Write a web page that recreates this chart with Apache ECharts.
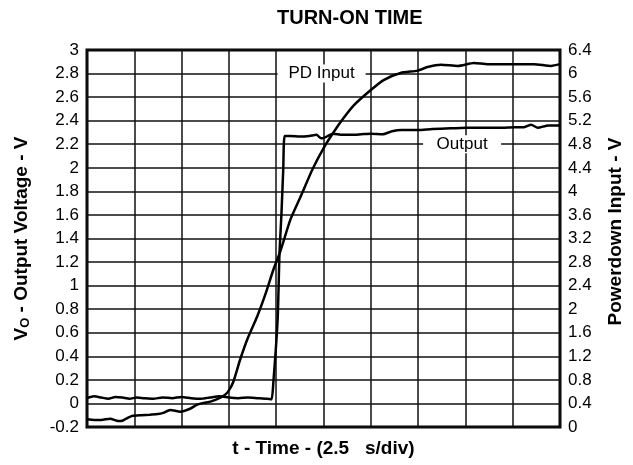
<!DOCTYPE html>
<html>
<head>
<meta charset="utf-8">
<script src="https://cdn.jsdelivr.net/npm/echarts@6/dist/echarts.min.js"></script>
<style>
  html, body { margin: 0; padding: 0; background: #fff; }
  #chart { width: 633px; height: 465px; }
</style>
</head>
<body>
<div id="chart"></div>
<script>
// time in divisions (2.5 us/div)
const outputTime = [0, 0.15, 0.3, 0.45, 0.6, 0.75, 0.9, 1.05, 1.2, 1.4, 1.6, 1.8, 2.0, 2.2, 2.4, 2.6, 2.8, 3.0, 3.2, 3.4, 3.6, 3.8, 3.9,
  3.94, 4.03, 4.07, 4.11, 4.15, 4.18, 4.3, 4.5, 4.7, 4.85, 4.95, 5.02, 5.2, 5.4, 5.6, 5.8, 6.0, 6.25, 6.45, 6.65, 7.0, 7.3,
  7.7, 8.05, 8.4, 8.75, 9.03, 9.24, 9.39, 9.53, 9.75, 10];
const outputVolts = [0.045, 0.06, 0.05, 0.04, 0.055, 0.05, 0.04, 0.05, 0.045, 0.04, 0.05, 0.045, 0.055, 0.045, 0.04, 0.05, 0.06, 0.05, 0.045, 0.05, 0.045, 0.04, 0.035,
  0.18, 0.71, 1.28, 1.6, 2.0, 2.27, 2.27, 2.265, 2.27, 2.28, 2.25, 2.255, 2.29, 2.28, 2.28, 2.285, 2.29, 2.285, 2.31, 2.32, 2.32, 2.33,
  2.335, 2.34, 2.34, 2.34, 2.345, 2.345, 2.365, 2.34, 2.36, 2.36];

const pdTime = [0, 0.15, 0.3, 0.49, 0.66, 0.76, 0.87, 0.97, 1.15, 1.33, 1.5, 1.61, 1.76, 1.97, 2.18, 2.33, 2.47, 2.61, 2.82, 2.92, 2.99,
  3.09, 3.24, 3.39, 3.6, 3.77, 3.94, 4.09, 4.3, 4.51, 4.77, 5.02, 5.21, 5.42, 5.64, 6.0, 6.27, 6.63, 6.99, 7.2, 7.48, 7.84,
  8.18, 8.47, 8.75, 9.11, 9.45, 9.81, 10];
const pdVolts = [0.13, 0.12, 0.12, 0.14, 0.1, 0.11, 0.16, 0.19, 0.2, 0.21, 0.22, 0.24, 0.29, 0.26, 0.31, 0.38, 0.41, 0.43, 0.5, 0.55, 0.61,
  0.76, 1.15, 1.49, 1.88, 2.25, 2.67, 2.99, 3.52, 3.9, 4.38, 4.76, 5.0, 5.24, 5.46, 5.72, 5.89, 6.01, 6.05, 6.11, 6.15, 6.13,
  6.18, 6.16, 6.16, 6.16, 6.16, 6.13, 6.16];

const FONT = 'Liberation Sans, Arial, Helvetica, sans-serif';

const chart = echarts.init(document.getElementById('chart'));

const pair = (xs, ys) => xs.map((x, i) => [x, ys[i]]);

// white box with the trace name, sitting on a grid line
const labelBox = (name, coord, w) => ({
  coord: coord,
  symbol: 'rect',
  symbolSize: [w, 18],
  itemStyle: { color: '#fff' },
  label: {
    show: true,
    position: 'inside',
    formatter: name,
    color: '#000',
    fontSize: 17,
    fontFamily: FONT
  }
});

const option = {
  animation: false,
  backgroundColor: '#fff',
  title: {
    text: 'TURN-ON TIME',
    left: 272,
    top: 3,
    textStyle: { fontSize: 20, fontWeight: 'bold', color: '#000', fontFamily: FONT }
  },
  grid: {
    left: 87,
    right: 73,
    top: 50,
    bottom: 38,
    show: true,
    borderColor: '#000',
    borderWidth: 3
  },
  xAxis: {
    type: 'value',
    min: 0,
    max: 10,
    interval: 1,
    name: 't - Time - (2.5   s/div)',
    nameLocation: 'middle',
    nameGap: 12,
    nameTextStyle: { fontSize: 19, fontWeight: 'bold', color: '#000', fontFamily: FONT },
    axisLine: { show: false },
    axisTick: { show: false },
    axisLabel: { show: false },
    splitLine: { lineStyle: { color: '#111', width: 1.5 } }
  },
  yAxis: [
    {
      type: 'value',
      min: -0.2,
      max: 3,
      interval: 0.2,
      name: '{a|V}{s|O}{a| - Output Voltage - V}',
      nameLocation: 'middle',
      nameRotate: 90,
      nameGap: 55,
      nameTextStyle: {
        rich: {
          a: { fontSize: 19, fontWeight: 'bold', color: '#000', fontFamily: FONT },
          s: { fontSize: 13, fontWeight: 'bold', color: '#000', fontFamily: FONT, verticalAlign: 'bottom', padding: [8, 0, 0, 0] }
        }
      },
      axisLine: { show: false },
      axisTick: { show: false },
      axisLabel: { fontSize: 17, color: '#000', fontFamily: FONT, margin: 8 },
      splitLine: { lineStyle: { color: '#111', width: 1.5 } }
    },
    {
      type: 'value',
      position: 'right',
      min: 0,
      max: 6.4,
      interval: 0.4,
      name: 'Powerdown Input - V',
      nameLocation: 'middle',
      nameRotate: 90,
      nameGap: 46,
      nameTextStyle: { fontSize: 19, fontWeight: 'bold', color: '#000', fontFamily: FONT, padding: [0, 0, 0, 14] },
      axisLine: { show: false },
      axisTick: { show: false },
      axisLabel: { fontSize: 17, color: '#000', fontFamily: FONT, margin: 8 },
      splitLine: { show: false }
    }
  ],
  series: [
    {
      name: 'Output',
      type: 'line',
      yAxisIndex: 0,
      data: pair(outputTime, outputVolts),
      showSymbol: false,
      smooth: 0.2,
      lineStyle: { color: '#000', width: 2.5 },
      z: 3,
      markPoint: { silent: true, z: 1, data: [labelBox('Output', [7.93, 2.2], 78)] }
    },
    {
      name: 'PD Input',
      type: 'line',
      yAxisIndex: 1,
      data: pair(pdTime, pdVolts),
      showSymbol: false,
      smooth: 0.2,
      lineStyle: { color: '#000', width: 2.5 },
      z: 3,
      markPoint: { silent: true, z: 1, data: [labelBox('PD Input', [4.96, 6.0], 88)] }
    }
  ]
};

chart.setOption(option);
</script>
</body>
</html>
